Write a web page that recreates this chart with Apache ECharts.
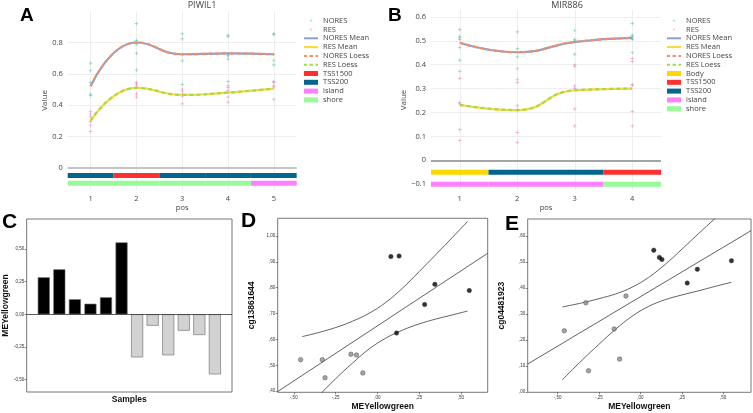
<!DOCTYPE html>
<html><head><meta charset="utf-8">
<script src="https://cdn.jsdelivr.net/npm/echarts@6/dist/echarts.min.js"></script>
<style>html,body{margin:0;padding:0;background:#fff}#c{width:753px;height:413px}</style>
</head><body><div id="c"></div><script>
// ---------- Panel A (PIWIL1) ----------
const posA = [1, 2, 3, 4, 5];
const noresA = [
  [0.668, 0.621, 0.545, 0.470, 0.460],
  [0.920, 0.813, 0.800, 0.790, 0.732, 0.625],
  [0.855, 0.823, 0.720, 0.683, 0.532],
  [0.845, 0.840, 0.720, 0.715, 0.694, 0.550],
  [0.855, 0.850, 0.725, 0.685, 0.657, 0.550]
];
const resA = [
  [0.360, 0.343, 0.328, 0.296, 0.268, 0.232],
  [0.545, 0.536, 0.523, 0.472, 0.451],
  [0.502, 0.487, 0.470, 0.455, 0.408],
  [0.523, 0.513, 0.494, 0.451, 0.419],
  [0.545, 0.523, 0.515, 0.438]
];
const noresMeanA = [0.520, 0.800, 0.725, 0.730, 0.725];
const resMeanA = [0.300, 0.510, 0.465, 0.480, 0.505];
const noresLoessA = [0.520, 0.800, 0.725, 0.730, 0.725];
const resLoessA = [0.300, 0.510, 0.465, 0.480, 0.505];
const featA = ['TSS200', 'TSS1500', 'TSS200', 'TSS200', 'TSS200'];
const cpgA = ['shore', 'shore', 'shore', 'shore', 'island'];
const yTicksA = [0, 0.2, 0.4, 0.6, 0.8];

// ---------- Panel B (MIR886) ----------
const posB = [1, 2, 3, 4];
const noresB = [
  [0.547, 0.519, 0.514, 0.506, 0.472, 0.419],
  [0.537, 0.467, 0.433, 0.383],
  [0.544, 0.506, 0.500, 0.494, 0.444],
  [0.572, 0.524, 0.517, 0.510, 0.506, 0.450]
];
const resB = [
  [0.371, 0.343, 0.242, 0.236, 0.128, 0.083],
  [0.339, 0.325, 0.228, 0.211, 0.117, 0.075],
  [0.399, 0.394, 0.311, 0.301, 0.215, 0.144],
  [0.426, 0.413, 0.317, 0.314, 0.204, 0.144]
];
const noresMeanB = [0.492, 0.452, 0.495, 0.512];
const resMeanB = [0.232, 0.210, 0.293, 0.300];
const noresLoessB = [0.492, 0.452, 0.495, 0.512];
const resLoessB = [0.232, 0.210, 0.293, 0.300];
const featB = ['Body', 'TSS200', 'TSS200', 'TSS1500'];
const cpgB = ['island', 'island', 'island', 'shore'];
const yTicksB = [-0.1, 0, 0.1, 0.2, 0.3, 0.4, 0.5, 0.6];

// ---------- Panels C, D, E ----------
const samples = ['S1','S2','S3','S4','S5','S6','S7','S8','S9','S10','S11','S12'];
const meYellowgreen = [0.283, 0.344, 0.115, 0.081, 0.130, 0.550, -0.329, -0.087, -0.313, -0.125, -0.158, -0.459];
const cg13861644 = [0.735, 0.813, 0.625, 0.920, 0.922, 0.789, 0.522, 0.471, 0.452, 0.540, 0.543, 0.522];
const cg04481923 = [0.419, 0.472, 0.518, 0.546, 0.510, 0.505, 0.343, 0.369, 0.081, 0.126, 0.242, 0.235];
const yTicksC = [-0.5, -0.25, 0, 0.25, 0.5];
const xTicksDE = [-0.5, -0.25, 0, 0.25, 0.5];
const yTicksD = [0.4, 0.5, 0.6, 0.7, 0.8, 0.9, 1.0];
const yTicksE = [0, 0.1, 0.2, 0.3, 0.4, 0.5, 0.6];
// fit line and 95% CI curves
const fitD = [[-0.596, 0.399], [0.66, 0.933]];
const ciXD = [-0.45, -0.35, -0.25, -0.15, -0.05, 0.05, 0.15, 0.25, 0.35, 0.45, 0.54];
const ciUpD = [0.611, 0.627, 0.646, 0.670, 0.701, 0.743, 0.798, 0.862, 0.928, 0.995, 1.056];
const ciLoD = [0.313, 0.383, 0.448, 0.508, 0.563, 0.605, 0.636, 0.660, 0.679, 0.695, 0.710];
const fitE = [[-0.68, 0.107], [0.668, 0.621]];
const ciXE = [-0.47, -0.35, -0.25, -0.15, -0.05, 0.05, 0.15, 0.25, 0.35, 0.45, 0.55];
const ciUpE = [0.327, 0.343, 0.359, 0.377, 0.403, 0.441, 0.491, 0.549, 0.609, 0.668, 0.730];
const ciLoE = [0.047, 0.123, 0.183, 0.241, 0.291, 0.329, 0.355, 0.373, 0.389, 0.406, 0.422];

// ---------- helpers ----------
const PF = 'Open Sans';
const SF = 'Liberation Sans';
const COLORS = {
  NORES: '#66c2a5', RES: '#e78ac3', 'NORES Mean': '#8da0cb', 'RES Mean': '#ffd92f',
  'NORES Loess': '#fc8d62', 'RES Loess': '#a6d854',
  Body: '#ffd700', TSS1500: '#ff3030', TSS200: '#04668c', island: '#ff80ff', shore: '#98fb98'
};
const PLUS = 'path://M2,0H3V2H5V3H3V5H2V3H0V2H2Z';
const LEG_PLUS = 'path://M0,0M8,8M3.5,2H4.5V3.5H6V4.5H4.5V6H3.5V4.5H2V3.5H3.5Z';
const ICON_SOLID = 'path://M0,0H14V2H0Z';
const ICON_DASH = 'path://M0,0H3V2H0Z M5.5,0H9V2H5.5Z M11.5,0H14V2H11.5Z';

function pts(groups, pos) { const o = []; groups.forEach((g, i) => g.forEach(v => o.push([pos[i], v]))); return o; }
function pairs(vals, pos) { return vals.map((v, i) => [pos[i], v]); }
function zip(xs, ys) { return xs.map((x, i) => [x, ys[i]]); }
function track(arr, name, pos, level) { const o = []; arr.forEach((t, i) => { if (t === name) o.push([pos[i], level]); }); return o; }
function plotlyNum(v) { const r = Math.round(v * 10) / 10; return r < 0 ? '\u2212' + Math.abs(r) : String(r); }
function spss(v, lead) {
  let s = Math.abs(v).toFixed(2);
  if (!lead) s = s.replace(/^0/, '');
  return (v < 0 ? '-' : '') + s.replace('.', ',');
}

function renderTrack(params, api) {
  const x = api.value(0), y = api.value(1);
  const p0 = api.coord([x - 0.5, y]);
  const p1 = api.coord([x + 0.5, y]);
  return { type: 'rect', shape: { x: p0[0], y: p0[1] - 2.5, width: p1[0] - p0[0], height: 5 },
           style: { fill: api.visual('color') } };
}

function plotlySeries(gi, nores, res, nm, rm, nl, rl, pos, feat, cpg, featNames, zeroColor, zeroW) {
  const s = [];
  s.push({ name: 'NORES', type: 'scatter', xAxisIndex: gi, yAxisIndex: gi, data: pts(nores, pos),
    symbol: PLUS, symbolSize: 3.5, itemStyle: { color: COLORS.NORES, opacity: 0.75 }, z: 2 });
  s.push({ name: 'RES', type: 'scatter', xAxisIndex: gi, yAxisIndex: gi, data: pts(res, pos),
    symbol: PLUS, symbolSize: 3.5, itemStyle: { color: COLORS.RES, opacity: 0.75 }, z: 2 });
  s.push({ name: 'NORES Mean', type: 'line', xAxisIndex: gi, yAxisIndex: gi, data: pairs(nm, pos), smooth: 0.5,
    symbol: 'none', lineStyle: { color: COLORS['NORES Mean'], width: 2.2 }, itemStyle: { color: COLORS['NORES Mean'] }, z: 3,
    markLine: { silent: true, symbol: 'none', label: { show: false }, lineStyle: { color: zeroColor, width: zeroW, type: 'solid' },
      data: [{ yAxis: 0 }] } });
  s.push({ name: 'RES Mean', type: 'line', xAxisIndex: gi, yAxisIndex: gi, data: pairs(rm, pos), smooth: 0.5,
    symbol: 'none', lineStyle: { color: COLORS['RES Mean'], width: 2.2 }, itemStyle: { color: COLORS['RES Mean'] }, z: 3 });
  s.push({ name: 'NORES Loess', type: 'line', xAxisIndex: gi, yAxisIndex: gi, data: pairs(nl, pos), smooth: 0.5,
    symbol: 'none', lineStyle: { color: COLORS['NORES Loess'], width: 2.2, type: [4, 3] }, itemStyle: { color: COLORS['NORES Loess'] }, z: 4 });
  s.push({ name: 'RES Loess', type: 'line', xAxisIndex: gi, yAxisIndex: gi, data: pairs(rl, pos), smooth: 0.5,
    symbol: 'none', lineStyle: { color: COLORS['RES Loess'], width: 2.2, type: [4, 3] }, itemStyle: { color: COLORS['RES Loess'] }, z: 4 });
  featNames.forEach(n => {
    const lvl = (n === 'island' || n === 'shore') ? -0.1 : -0.05;
    const src = (n === 'island' || n === 'shore') ? cpg : feat;
    s.push({ name: n, type: 'custom', xAxisIndex: gi, yAxisIndex: gi, data: track(src, n, pos, lvl),
      renderItem: renderTrack, itemStyle: { color: COLORS[n] }, z: 5 });
  });
  return s;
}

const series = [];
series.push(...plotlySeries(0, noresA, resA, noresMeanA, resMeanA, noresLoessA, resLoessA, posA, featA, cpgA,
  ['TSS1500', 'TSS200', 'island', 'shore'], '#c4c4c4', 2));
series.push(...plotlySeries(1, noresB, resB, noresMeanB, resMeanB, noresLoessB, resLoessB, posB, featB, cpgB,
  ['Body', 'TSS1500', 'TSS200', 'island', 'shore'], '#8a8a8a', 1.5));

// C bars
series.push({ type: 'bar', xAxisIndex: 2, yAxisIndex: 2, data: meYellowgreen.map((v, i) => [i + 1, v]), barWidth: 12,
  itemStyle: { color: p => (meYellowgreen[p.dataIndex] >= 0 ? '#000000' : '#d2d2d2'), borderColor: '#666', borderWidth: 0.6 },
  markLine: { silent: true, symbol: 'none', label: { show: false }, lineStyle: { color: '#333', width: 0.8, type: 'solid' }, data: [{ yAxis: 0 }] } });

function spssScatter(gi, ys, fit, cx, cu, cl) {
  const line = { color: '#3a3a3a', width: 0.8 };
  return [
    { type: 'line', xAxisIndex: gi, yAxisIndex: gi, data: fit, symbol: 'none', lineStyle: line, z: 2 },
    { type: 'line', xAxisIndex: gi, yAxisIndex: gi, data: zip(cx, cu), smooth: 0.4, symbol: 'none', lineStyle: line, z: 2 },
    { type: 'line', xAxisIndex: gi, yAxisIndex: gi, data: zip(cx, cl), smooth: 0.4, symbol: 'none', lineStyle: line, z: 2 },
    { type: 'scatter', xAxisIndex: gi, yAxisIndex: gi, data: meYellowgreen.map((v, i) => [v, ys[i]]), symbolSize: 4.5,
      itemStyle: { color: p => (meYellowgreen[p.dataIndex] >= 0 ? '#000000' : '#8f8f8f'), borderColor: '#333', borderWidth: 0.5 }, z: 3 }
  ];
}
series.push(...spssScatter(3, cg13861644, fitD, ciXD, ciUpD, ciLoD));
series.push(...spssScatter(4, cg04481923, fitE, ciXE, ciUpE, ciLoE));

// ---------- axes ----------
const plotlyAxisLabel = { color: '#444', fontSize: 7.5, fontFamily: PF };
function pX(gi, pos, min, max) {
  return { gridIndex: gi, type: 'value', min: min, max: max,
    axisLine: { show: false, onZero: false }, axisTick: { show: false, customValues: pos },
    axisLabel: Object.assign({ customValues: pos, margin: 5, formatter: v => String(v) }, plotlyAxisLabel),
    splitLine: { show: true, lineStyle: { color: '#eeeeee', width: 1 } },
    name: 'pos', nameLocation: 'middle', nameGap: 14, nameTextStyle: { color: '#444', fontSize: 7.5, fontFamily: PF } };
}
function pY(gi, ticks, min, max) {
  return { gridIndex: gi, type: 'value', min: min, max: max,
    axisLine: { show: false, onZero: false }, axisTick: { show: false, customValues: ticks },
    axisLabel: Object.assign({ customValues: ticks, margin: 5, formatter: plotlyNum }, plotlyAxisLabel),
    splitLine: { show: true, lineStyle: { color: '#eeeeee', width: 1 } },
    name: 'Value', nameLocation: 'middle', nameGap: 16, nameRotate: 90,
    nameTextStyle: { color: '#444', fontSize: 8, fontFamily: PF } };
}
const spssLabel = { color: '#333', fontSize: 4.5, fontFamily: SF, margin: 2.5 };
function sAxis(gi, ticks, min, max, lead, name, nameGap, isY, showTicks) {
  const ax = { gridIndex: gi, type: 'value', min: min, max: max,
    axisLine: { show: false, onZero: false },
    axisTick: { show: showTicks, customValues: ticks || [], length: 2, inside: false, lineStyle: { color: '#333', width: 0.6 } },
    axisLabel: Object.assign({ show: showTicks, customValues: ticks || [], formatter: v => spss(v, lead) }, spssLabel),
    splitLine: { show: false },
    name: name, nameLocation: 'middle', nameGap: nameGap,
    nameTextStyle: { color: '#111', fontSize: 8.5, fontWeight: 'bold', fontFamily: SF } };
  if (isY) ax.nameRotate = 90;
  return ax;
}

const legendData = (feats) => [{ name: 'NORES', icon: LEG_PLUS }, { name: 'RES', icon: LEG_PLUS },
  { name: 'NORES Mean', icon: ICON_SOLID }, { name: 'RES Mean', icon: ICON_SOLID },
  { name: 'NORES Loess', icon: ICON_DASH }, { name: 'RES Loess', icon: ICON_DASH }]
  .concat(feats.map(n => ({ name: n, icon: 'rect' })));

const option = {
  animation: false,
  backgroundColor: '#ffffff',
  title: [
    { text: 'A', left: 20, top: 6, padding: 0, textStyle: { fontSize: 19, fontWeight: 'bold', fontFamily: SF, color: '#000' } },
    { text: 'B', left: 388, top: 6, padding: 0, textStyle: { fontSize: 19, fontWeight: 'bold', fontFamily: SF, color: '#000' } },
    { text: 'C', left: 2, top: 212, padding: 0, textStyle: { fontSize: 21, fontWeight: 'bold', fontFamily: SF, color: '#000' } },
    { text: 'D', left: 241, top: 211, padding: 0, textStyle: { fontSize: 21, fontWeight: 'bold', fontFamily: SF, color: '#000' } },
    { text: 'E', left: 505, top: 214, padding: 0, textStyle: { fontSize: 21, fontWeight: 'bold', fontFamily: SF, color: '#000' } },
    { text: 'PIWIL1', left: 202, top: 1, padding: 0, textAlign: 'center', textStyle: { fontSize: 9, fontWeight: 'normal', fontFamily: PF, color: '#444' } },
    { text: 'MIR886', left: 567, top: 1, padding: 0, textAlign: 'center', textStyle: { fontSize: 9, fontWeight: 'normal', fontFamily: PF, color: '#444' } }
  ],
  legend: [
    { orient: 'vertical', left: 304, top: 16.3, padding: 0, itemWidth: 14, itemHeight: 5, itemGap: 0,
      textStyle: { fontSize: 7.5, color: '#444', fontFamily: PF, lineHeight: 8.8 },
      data: legendData(['TSS1500', 'TSS200', 'island', 'shore']) },
    { orient: 'vertical', left: 667, top: 16.3, padding: 0, itemWidth: 14, itemHeight: 5, itemGap: 0,
      textStyle: { fontSize: 7.5, color: '#444', fontFamily: PF, lineHeight: 8.8 },
      data: legendData(['Body', 'TSS1500', 'TSS200', 'island', 'shore']) }
  ],
  grid: [
    { left: 67.7, top: 11.2, width: 229, height: 178.4 },
    { left: 431, top: 9.7, width: 230, height: 180.5 },
    { left: 25, top: 219, width: 207, height: 173, show: true, borderColor: '#777', borderWidth: 1 },
    { left: 277.7, top: 218.3, width: 210, height: 174, show: true, borderColor: '#777', borderWidth: 1 },
    { left: 527.7, top: 219, width: 223.3, height: 173.3, show: true, borderColor: '#777', borderWidth: 1 }
  ],
  xAxis: [
    pX(0, posA, 0.5, 5.5),
    pX(1, posB, 0.5, 4.5),
    sAxis(2, null, -0.1, 13.1, true, 'Samples', 3.5, false, false),
    sAxis(3, xTicksDE, -0.596, 0.66, false, 'MEYellowgreen', 10, false, true),
    sAxis(4, xTicksDE, -0.68, 0.668, false, 'MEYellowgreen', 10, false, true)
  ],
  yAxis: [
    pY(0, yTicksA, -0.14, 1.0),
    pY(1, yTicksB, -0.125, 0.63),
    sAxis(2, yTicksC, -0.594, 0.729, true, 'MEYellowgreen', 14, true, true),
    sAxis(3, yTicksD, 0.396, 1.068, false, 'cg13861644', 21.5, true, true),
    sAxis(4, yTicksE, -0.002, 0.666, false, 'cg04481923', 21.5, true, true)
  ],
  series: series
};
const chart = echarts.init(document.getElementById('c'));
chart.setOption(option);
</script></body></html>
